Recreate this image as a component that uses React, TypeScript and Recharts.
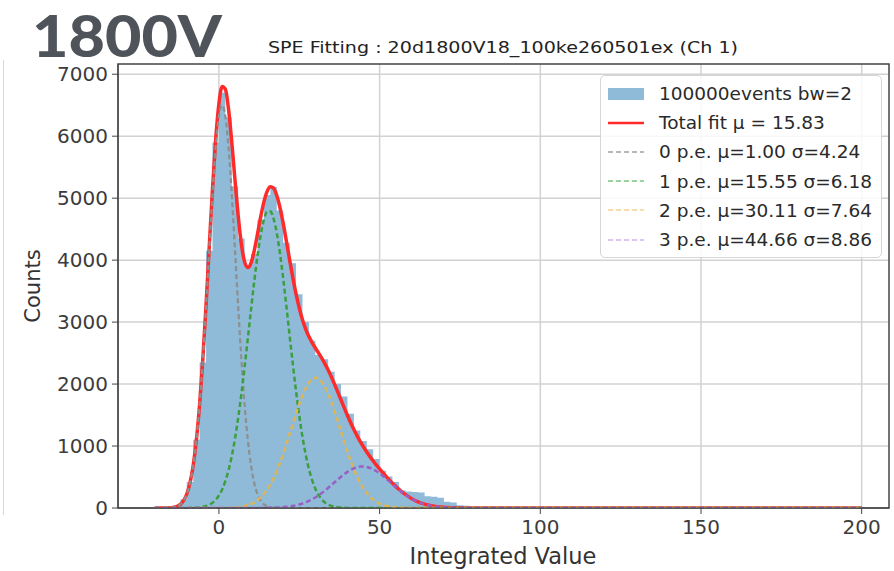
import { ComposedChart, Area, Line, XAxis, YAxis, CartesianGrid, ReferenceArea } from 'recharts';

// histogram, bin width 2 (left edges)
const binEdges = [-18, -16, -14, -12, -10, -8, -6, -4, -2, 0, 2, 4, 6, 8, 10, 12, 14, 16, 18, 20, 22, 24, 26, 28, 30, 32, 34, 36, 38, 40, 42, 44, 46, 48, 50, 52, 54, 56, 58, 60, 62, 64, 66, 68, 70, 72, 74, 76, 78, 80];
const binCounts = [3, 8, 35, 140, 420, 1100, 2350, 4150, 5900, 6700, 6300, 5190, 4350, 3900, 4100, 4650, 5050, 5180, 4800, 4280, 3950, 3450, 3000, 2700, 2470, 2400, 2200, 2000, 1800, 1520, 1250, 1080, 950, 790, 600, 510, 420, 285, 265, 260, 250, 190, 180, 165, 100, 90, 45, 35, 15, 0];

// fit curves sampled at these x values
const fitX = [-20, -19, -18, -17, -16, -15, -14, -13, -12, -11, -10, -9, -8, -7, -6, -5, -4, -3, -2, -1, 0, 1, 2, 3, 4, 5, 6, 7, 8, 9, 10, 11, 12, 13, 14, 15, 16, 17, 18, 19, 20, 21, 22, 23, 24, 25, 26, 27, 28, 29, 30, 31, 32, 33, 34, 35, 36, 37, 38, 39, 40, 41, 42, 43, 44, 45, 46, 47, 48, 49, 50, 51, 52, 53, 54, 55, 56, 57, 58, 59, 60, 61, 62, 63, 64, 65, 66, 67, 68, 69, 70, 71, 72, 73, 74, 75, 76, 77, 78, 79, 80, 200];
const totalFit = [0, 0, 0, 1, 2, 5, 12, 28, 59, 119, 226, 405, 686, 1103, 1675, 2408, 3276, 4219, 5146, 5949, 6525, 6801, 6758, 6431, 5904, 5293, 4712, 4254, 3972, 3880, 3956, 4155, 4422, 4699, 4939, 5109, 5185, 5162, 5044, 4848, 4593, 4305, 4005, 3717, 3454, 3227, 3039, 2888, 2766, 2668, 2582, 2501, 2417, 2326, 2226, 2115, 1996, 1871, 1744, 1617, 1493, 1376, 1266, 1164, 1070, 984, 904, 829, 759, 693, 630, 569, 510, 454, 400, 349, 302, 258, 219, 183, 151, 122, 99, 79, 62, 48, 37, 28, 21, 15, 11, 8, 6, 4, 3, 2, 1, 1, 1, 0, 0, 0];
const pe0 = [0, 0, 0, 1, 2, 5, 12, 28, 59, 119, 225, 403, 683, 1097, 1664, 2389, 3244, 4166, 5061, 5816, 6322, 6500, 6322, 5816, 5061, 4166, 3244, 2389, 1664, 1097, 683, 403, 225, 119, 59, 28, 12, 5, 2, 1, 0, 0, 0, 0, 0, 0, 0, 0, 0, 0, 0, 0, 0, 0, 0, 0, 0, 0, 0, 0, 0, 0, 0, 0, 0, 0, 0, 0, 0, 0, 0, 0, 0, 0, 0, 0, 0, 0, 0, 0, 0, 0, 0, 0, 0, 0, 0, 0, 0, 0, 0, 0, 0, 0, 0, 0, 0, 0, 0, 0, 0, 0];
const pe1 = [0, 0, 0, 0, 0, 0, 0, 0, 0, 0, 1, 2, 3, 6, 11, 19, 32, 53, 85, 133, 202, 300, 434, 611, 837, 1118, 1454, 1843, 2276, 2737, 3207, 3660, 4070, 4408, 4651, 4781, 4787, 4670, 4437, 4107, 3704, 3254, 2784, 2321, 1885, 1491, 1149, 863, 631, 449, 312, 211, 139, 89, 56, 34, 20, 12, 7, 4, 2, 1, 0, 0, 0, 0, 0, 0, 0, 0, 0, 0, 0, 0, 0, 0, 0, 0, 0, 0, 0, 0, 0, 0, 0, 0, 0, 0, 0, 0, 0, 0, 0, 0, 0, 0, 0, 0, 0, 0, 0, 0];
const pe2 = [0, 0, 0, 0, 0, 0, 0, 0, 0, 0, 0, 0, 0, 0, 0, 0, 0, 0, 0, 0, 1, 1, 2, 4, 6, 9, 14, 22, 32, 46, 66, 92, 126, 171, 227, 297, 382, 482, 598, 730, 875, 1032, 1196, 1362, 1525, 1679, 1817, 1933, 2021, 2078, 2100, 2086, 2037, 1955, 1845, 1711, 1560, 1398, 1232, 1067, 908, 760, 626, 506, 402, 314, 242, 182, 135, 99, 71, 50, 35, 24, 16, 10, 7, 4, 3, 2, 1, 0, 0, 0, 0, 0, 0, 0, 0, 0, 0, 0, 0, 0, 0, 0, 0, 0, 0, 0, 0, 0];
const pe3 = [0, 0, 0, 0, 0, 0, 0, 0, 0, 0, 0, 0, 0, 0, 0, 0, 0, 0, 0, 0, 0, 0, 0, 0, 0, 0, 0, 0, 0, 0, 0, 0, 1, 1, 2, 3, 4, 5, 7, 10, 14, 19, 25, 34, 44, 57, 73, 92, 114, 141, 170, 204, 241, 282, 325, 370, 416, 461, 505, 546, 583, 615, 640, 658, 668, 670, 662, 647, 624, 594, 559, 519, 475, 430, 384, 339, 295, 254, 216, 181, 150, 122, 99, 79, 62, 48, 37, 28, 21, 15, 11, 8, 6, 4, 3, 2, 1, 1, 1, 0, 0, 0];

const xTicks = [0, 50, 100, 150, 200];
const yTicks = [0, 1000, 2000, 3000, 4000, 5000, 6000, 7000];

const legendItems = [
  { label: '100000events bw=2', kind: 'patch', color: '#8fbbd9' },
  { label: 'Total fit \u03bc = 15.83', kind: 'line', color: '#ff2a2a' },
  { label: '0 p.e. \u03bc=1.00 \u03c3=4.24', kind: 'dash', color: '#b8b8b8' },
  { label: '1 p.e. \u03bc=15.55 \u03c3=6.18', kind: 'dash', color: '#9fd19f' },
  { label: '2 p.e. \u03bc=30.11 \u03c3=7.64', kind: 'dash', color: '#f8dcb0' },
  { label: '3 p.e. \u03bc=44.66 \u03c3=8.86', kind: 'dash', color: '#dcc6ef' },
];

const histData = binEdges.map((x, i) => ({ x, counts: binCounts[i] }));
const fitData = fitX.map((x, i) => ({ x, total: totalFit[i], g0: pe0[i], g1: pe1[i], g2: pe2[i], g3: pe3[i] }));

const font = 'DejaVu Sans, Verdana, sans-serif';

export default function App() {
  return (
    <div style={{ position: 'absolute', left: 0, top: 0, width: 894, height: 571, background: '#fff', fontFamily: font }}>
      <div style={{ position: 'absolute', left: 3, top: 60, width: 1, height: 455, background: '#d8d8d8' }} />
      <ComposedChart width={894} height={571} margin={{ top: 64, right: 5, bottom: 0, left: 0 }}>
        <CartesianGrid stroke="#d2d2d2" strokeWidth={1.5} verticalValues={xTicks} horizontalValues={yTicks} />
        <XAxis
          type="number"
          dataKey="x"
          domain={[-31.4, 208.5]}
          allowDataOverflow
          ticks={xTicks}
          height={63}
          tickSize={6}
          tickMargin={6}
          stroke="#444"
          tick={{ fill: '#3c3c3c', fontSize: 20, fontFamily: font }}
        />
        <YAxis
          type="number"
          domain={[0, 7165]}
          allowDataOverflow
          ticks={yTicks}
          width={118}
          tickSize={6}
          tickMargin={4}
          stroke="#444"
          tick={{ fill: '#3c3c3c', fontSize: 20, fontFamily: font }}
        />
        <Area data={histData} dataKey="counts" type="stepAfter" fill="#8fbbd9" fillOpacity={1} stroke="none" isAnimationActive={false} />
        <Line data={fitData} dataKey="total" type="monotone" stroke="#ff2a2a" strokeWidth={3.5} dot={false} isAnimationActive={false} />
        <Line data={fitData} dataKey="g0" type="monotone" stroke="#8e8e8e" strokeWidth={2.2} strokeDasharray="5 3" dot={false} isAnimationActive={false} />
        <Line data={fitData} dataKey="g1" type="monotone" stroke="#3d9e3d" strokeWidth={2.5} strokeDasharray="5 3" dot={false} isAnimationActive={false} />
        <Line data={fitData} dataKey="g2" type="monotone" stroke="#dcb656" strokeWidth={2.5} strokeDasharray="5 3" dot={false} isAnimationActive={false} />
        <Line data={fitData} dataKey="g3" type="monotone" stroke="#9a5fc4" strokeWidth={2.5} strokeDasharray="5 3" dot={false} isAnimationActive={false} />
        <ReferenceArea x1={-31.4} x2={208.5} y1={0} y2={7165} fill="none" stroke="#444" strokeWidth={1.5} ifOverflow="visible" />
      </ComposedChart>

      <svg width={894} height={571} style={{ position: 'absolute', left: 0, top: 0, pointerEvents: 'none' }}>
        <text x={32} y={57} fontFamily="Lato, 'Open Sans', sans-serif" fontWeight={900} fontSize={58} fill="#4f545b" textLength={190} lengthAdjust="spacingAndGlyphs">1800V</text>
        <text x={268} y={53} fontFamily={font} fontSize={16} fill="#222" textLength={470} lengthAdjust="spacingAndGlyphs">SPE Fitting : 20d1800V18_100ke260501ex (Ch 1)</text>
        <text x={0} y={0} transform="translate(40 286) rotate(-90)" textAnchor="middle" fontFamily={font} fontSize={21} fill="#333">Counts</text>
        <text x={503} y={564} textAnchor="middle" fontFamily={font} fontSize={22.5} fill="#333">Integrated Value</text>
      </svg>

      <div style={{ position: 'absolute', left: 600, top: 75, width: 282, height: 183, boxSizing: 'border-box', background: 'rgba(255,255,255,0.85)', border: '1px solid #d6d6d6', borderRadius: 5, padding: '3px 0 0 7px' }}>
        {legendItems.map((it) => (
          <div key={it.label} style={{ height: 29.2, display: 'flex', alignItems: 'center', fontSize: 18.5, color: '#2a2a2a', whiteSpace: 'nowrap' }}>
            <svg width={36} height={14} style={{ marginRight: 15, flex: 'none' }}>
              {it.kind === 'patch' && <rect x={0} y={1} width={36} height={12} fill={it.color} />}
              {it.kind === 'line' && <line x1={0} x2={36} y1={7} y2={7} stroke={it.color} strokeWidth={2.5} />}
              {it.kind === 'dash' && <line x1={0} x2={36} y1={7} y2={7} stroke={it.color} strokeWidth={2} strokeDasharray="5 3" />}
            </svg>
            {it.label}
          </div>
        ))}
      </div>
    </div>
  );
}
